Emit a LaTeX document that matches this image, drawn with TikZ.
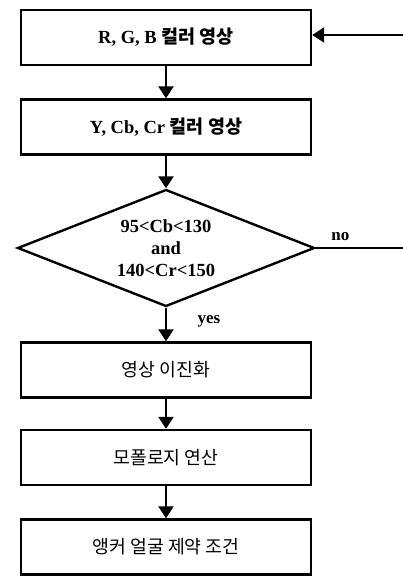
\documentclass[tikz,border=0pt]{standalone}
\usepackage{fontspec}
\setmainfont{Liberation Serif}
\newfontfamily\kr{Noto Sans CJK KR}
\usetikzlibrary{shapes.geometric,arrows.meta}
\begin{document}
\begin{tikzpicture}[x=1pt,y=-1pt,
  box/.style={draw, line width=2.4pt, minimum width=290pt, minimum height=55pt, inner sep=0pt},
  dec/.style={draw, diamond, aspect=2.5, line width=2.4pt, minimum width=297pt, minimum height=117pt, inner sep=0pt, align=center},
  conn/.style={line width=2.4pt},
  arr/.style={line width=2.4pt, -{Triangle[length=12pt,width=15pt]}},
  lat/.style={font=\fontsize{18.5}{22}\selectfont\bfseries},
  kor/.style={font=\fontsize{18.3}{20}\selectfont\kr},
  lbl/.style={font=\fontsize{17}{20}\selectfont\bfseries}]
\useasboundingbox (0,0) rectangle (403,577);
\node[box, lat] (b1) at (166,37.5) {R, G, B {\kr 컬러 영상}};
\node[box, lat] (b2) at (166,127) {Y, Cb, Cr {\kr 컬러 영상}};
\node[dec, lat] (d) at (166,248) {95<Cb<130\\and\\140<Cr<150};
\node[box, kor] (b3) at (166,370) {영상 이진화};
\node[box, kor] (b4) at (166,457.5) {모폴로지 연산};
\node[box, kor] (b5) at (166,547) {앵커 얼굴 제약 조건};
\coordinate (e1) at (404,248);
\coordinate (e2) at (404,35);
\draw[arr] (b1) -- (b2);
\draw[arr] (b2) -- (d.north);
\draw[arr] (d.south) -- node[lbl, right=27pt, pos=0.4] {yes} (b3);
\draw[arr] (b3) -- (b4);
\draw[arr] (b4) -- (b5);
\draw[conn] (d.east) -- node[lbl, above=3pt, pos=0.28] {no} (e1);
\draw[arr] (e2) -- (b1.east |- e2);
\end{tikzpicture}
\end{document}
